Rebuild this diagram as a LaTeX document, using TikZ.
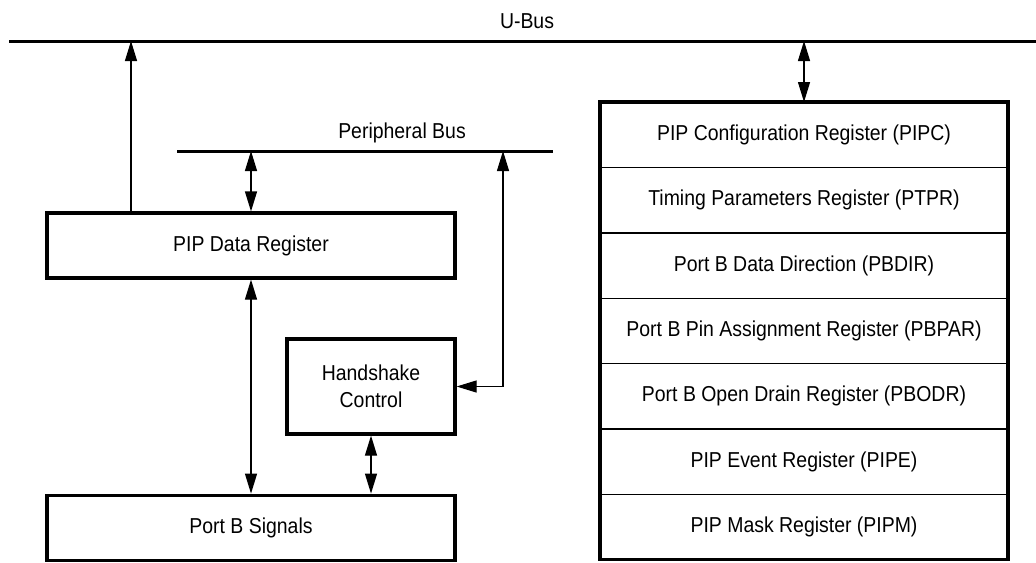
\documentclass[tikz,border=0pt]{standalone}
\usepackage{fontspec}
\setmainfont{Liberation Sans}[FakeStretch=0.9]
\usetikzlibrary{positioning, arrows.meta}
\tikzstyle{block} = [rectangle,
draw=black,
line width=1.6pt,
align=center,
minimum width=204pt,
minimum height=32.5pt]
\tikzstyle{reg} = [rectangle,
draw=black,
line width=0.7pt,
outer sep=0pt,
minimum width=204pt,
minimum height=32.7pt]
\tikzstyle{bus} = [line width=1.5pt]
\tikzstyle{link} = [line width=0.6pt]

\begin{document}
\begin{tikzpicture}[x=0.5pt, y=-0.5pt,
    >={Triangle[width=6pt,length=10pt]},
    font=\fontsize{10.8}{13.3}\selectfont
    ]
    \useasboundingbox (0,0) rectangle (1036,562);

    % buses
    \coordinate (ubusL) at (9,41);
    \coordinate (ubusR) at (1036,41);
    \coordinate (pbusL) at (177,151);
    \coordinate (pbusR) at (553,151);
    \draw[bus] (ubusL) -- (ubusR);
    \draw[bus] (pbusL) -- (pbusR);
    \node (ubuslabel) [anchor=base] at (527,28) {U-Bus};
    \node (pbuslabel) [anchor=base] at (402,138) {Peripheral Bus};

    % left side
    \node (pipdr) [block] at (251,245.5) {PIP Data Register};
    \node (portb) [block, below=107pt of pipdr] {Port B Signals};
    \node (hs) [block, minimum width=84pt, minimum height=47.5pt,
        above left=29pt and 0pt of portb.north east] {Handshake\\Control};

    % register stack
    \node (pipc) [reg] at (804,134.7) {PIP Configuration Register (PIPC)};
    \node (ptpr) [reg, below=0pt of pipc] {Timing Parameters Register (PTPR)};
    \node (pbdir) [reg, below=0pt of ptpr] {Port B Data Direction (PBDIR)};
    \node (pbpar) [reg, below=0pt of pbdir] {Port B Pin Assignment Register (PBPAR)};
    \node (pbodr) [reg, below=0pt of pbpar] {Port B Open Drain Register (PBODR)};
    \node (pipe) [reg, below=0pt of pbodr] {PIP Event Register (PIPE)};
    \node (pipm) [reg, below=0pt of pipe] {PIP Mask Register (PIPM)};
    \draw[line width=1.6pt] (pipc.north west) rectangle (pipm.south east);

    % arrows
    \coordinate (ubusA) at (131,41);
    \coordinate (pbusB) at (503,151);
    \draw[->, link] (ubusA |- pipdr.north) -- (ubusA);
    \draw[<->, link] (pipdr.north) -- (pipdr.north |- pbusL);
    \draw[<->, link] (pipdr) -- (portb);
    \draw[<->, link] (hs.south) -- (hs.south |- portb.north);
    \draw[<->, link] (hs.east) -| (pbusB);
    \draw[<->, link] (pipc.north) -- (pipc.north |- ubusL);

\end{tikzpicture}
\end{document}
